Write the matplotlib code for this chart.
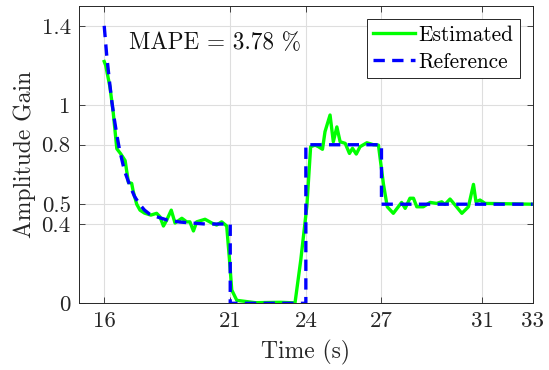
import matplotlib
matplotlib.use("Agg")
import matplotlib.pyplot as plt

plt.rcParams['font.family'] = 'serif'
plt.rcParams['font.serif'] = ['cmr10', 'DejaVu Serif']
plt.rcParams['mathtext.fontset'] = 'cm'
plt.rcParams['axes.formatter.use_mathtext'] = True

# Reference (dashed blue)
ref_t = [16.0, 16.1, 16.2, 16.3, 16.4, 16.5, 16.6, 16.8, 17.0, 17.2, 17.4, 17.6,
         17.8, 18.0, 18.5, 19.0, 20.0, 21.0, 21.0, 24.0, 24.0, 27.0, 27.0, 33.0]
ref_v = [1.40, 1.25, 1.13, 1.02, 0.93, 0.85, 0.78, 0.67, 0.60, 0.54, 0.50, 0.47,
         0.45, 0.44, 0.42, 0.41, 0.40, 0.40, 0.0, 0.0, 0.80, 0.80, 0.50, 0.50]

# Estimated (solid green)
est_t = [16.0, 16.06, 16.23, 16.36, 16.5, 16.65, 16.83, 16.96, 17.09, 17.15, 17.29,
         17.42, 17.6, 17.85, 18.08, 18.21, 18.35, 18.48, 18.66, 18.81, 19.08, 19.27,
         19.4, 19.54, 19.67, 20.0, 20.27, 20.46, 20.66, 20.86, 20.97, 21.06, 21.26,
         22.0, 23.0, 23.57, 23.8, 24.04, 24.19, 24.37, 24.5, 24.66, 24.76, 24.96,
         25.09, 25.23, 25.36, 25.56, 25.73, 25.85, 26.0, 26.15, 26.42, 26.68, 26.88,
         27.08, 27.23, 27.47, 27.8, 27.94, 28.13, 28.27, 28.4, 28.66, 28.93, 29.19,
         29.39, 29.52, 29.72, 29.92, 30.19, 30.45, 30.65, 30.75, 30.91, 31.11, 33.0]
est_v = [1.22, 1.20, 1.09, 0.96, 0.78, 0.755, 0.72, 0.61, 0.605, 0.565, 0.50,
         0.47, 0.455, 0.445, 0.454, 0.437, 0.39, 0.42, 0.47, 0.405, 0.429, 0.411,
         0.411, 0.365, 0.411, 0.424, 0.405, 0.395, 0.411, 0.39, 0.22, 0.067, 0.015,
         0.003, 0.005, 0.002, 0.22, 0.49, 0.79, 0.798, 0.79, 0.777, 0.866, 0.95,
         0.815, 0.89, 0.815, 0.807, 0.756, 0.782, 0.753, 0.79, 0.81, 0.80, 0.798,
         0.60, 0.487, 0.454, 0.509, 0.479, 0.53, 0.53, 0.487, 0.487, 0.509, 0.504,
         0.512, 0.499, 0.526, 0.496, 0.454, 0.487, 0.60, 0.512, 0.521, 0.504, 0.50]

xticks = [16, 21, 24, 27, 31, 33]
yticks = [0, 0.4, 0.5, 0.8, 1, 1.4]
yticklabels = ['0', '0.4', '0.5', '0.8', '1', '1.4']

dark = '#262626'
fig = plt.figure(figsize=(5.49, 3.70), dpi=100)
ax = fig.add_axes([79/549, 1-303.3/370, (532.7-79)/549, (303.3-6)/370])

ax.plot(est_t, est_v, color='#00ff00', lw=2.4, label='Estimated', zorder=3)
ax.plot(ref_t, ref_v, color='#0000ff', lw=2.4, ls=(0, (3.4, 2.2)),
        label='Reference', zorder=4)

ax.set_xlim(15, 33)
ax.set_ylim(0, 1.5)
ax.set_xticks(xticks)
ax.set_xticklabels([str(x) for x in xticks])
ax.set_yticks(yticks)
ax.set_yticklabels(yticklabels)
ax.grid(True, color='#dedede', lw=0.8)
ax.set_axisbelow(True)
ax.tick_params(direction='in', length=4, width=0.6, colors=dark, labelsize=16.5,
               top=True, right=True, pad=6)
for s in ax.spines.values():
    s.set_color(dark)
    s.set_linewidth(0.7)

ax.set_xlabel('Time (s)', fontsize=17, color=dark, labelpad=6)
ax.set_ylabel('Amplitude Gain', fontsize=17, color=dark, labelpad=4)

ax.text(17.0, 1.313, 'MAPE = 3.78 %', fontsize=16.7, color='#111111',
        ha='left', va='center')

leg = ax.legend(loc='upper right', fontsize=15.3, frameon=True, fancybox=False,
                edgecolor=dark, framealpha=1, handlelength=2.0, handletextpad=0.15,
                borderpad=0.3, labelspacing=0.36, borderaxespad=0.6)
leg.get_frame().set_linewidth(0.7)

fig.savefig('out.png', dpi=100)
